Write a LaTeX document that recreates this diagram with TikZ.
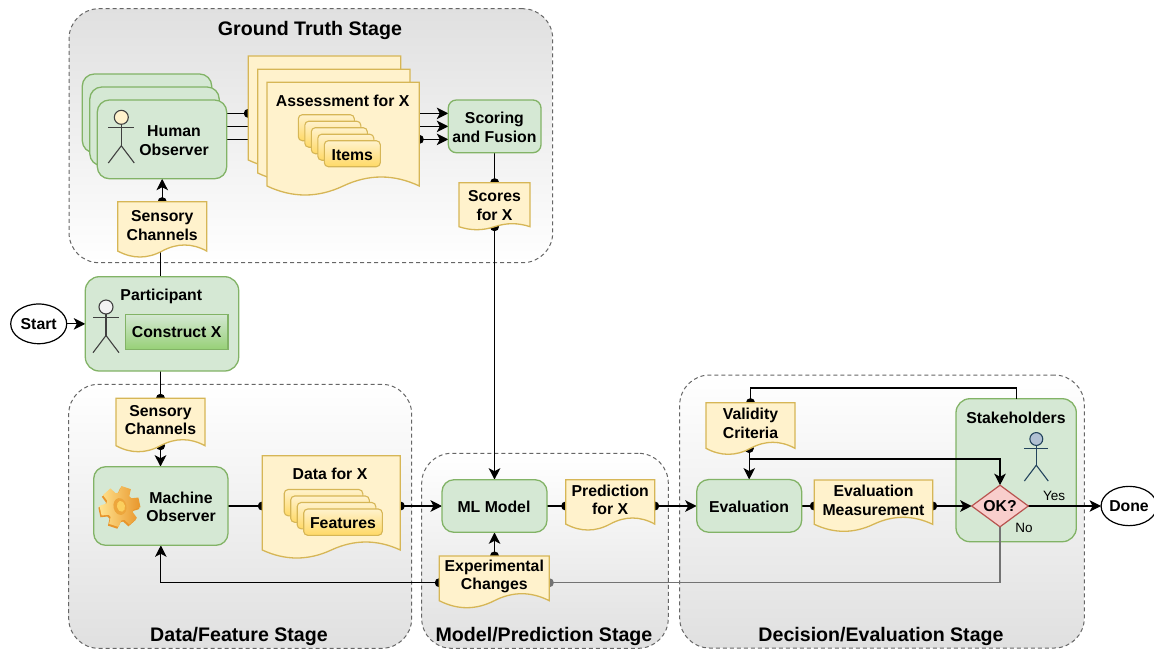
\documentclass[tikz,border=0pt]{standalone}
\usepackage{fontspec}
\setmainfont{Liberation Sans}
\usetikzlibrary{calc}
\usetikzlibrary{arrows.meta}
\usetikzlibrary{shapes.geometric}

\definecolor{greenfill}{HTML}{D5E8D4}
\definecolor{greenline}{HTML}{82B366}
\definecolor{greendark}{HTML}{97D077}
\definecolor{goldfill}{HTML}{FFF2CC}
\definecolor{goldline}{HTML}{D6B656}
\definecolor{golddark}{HTML}{FFD966}
\definecolor{gearedge}{HTML}{E8952A}
\definecolor{gearhole}{HTML}{EDA63C}
\definecolor{stagegray}{HTML}{E0E0E0}
\definecolor{stageline}{HTML}{666666}
\definecolor{redfill}{HTML}{F8CECC}
\definecolor{redline}{HTML}{B85450}
\definecolor{navyline}{HTML}{23445D}
\definecolor{navyfill}{HTML}{B1C1D4}

\pgfdeclarelayer{stage}
\pgfdeclarelayer{edges}
\pgfsetlayers{stage,edges,main}

\tikzset{
  txt/.style={font=\fontsize{15.8}{18.6}\selectfont\bfseries,align=center,inner sep=0pt},
  stagebox/.style={draw=stageline,line width=1pt,dash pattern=on 4pt off 3pt,rounded corners=30pt,inner sep=0pt,outer sep=0pt},
  stagename/.style={font=\fontsize{19.6}{22}\selectfont\bfseries,inner sep=0pt},
  greenbox/.style={txt,draw=greenline,fill=greenfill,line width=1.3pt,rounded corners=12pt,outer sep=0pt},
  itembox/.style={txt,draw=goldline,top color=goldfill,bottom color=golddark,line width=1.1pt,rounded corners=4pt,outer sep=0pt},
  docline/.style={draw=goldline,fill=goldfill,line width=1.3pt},
  terminal/.style={txt,ellipse,draw=black,fill=white,line width=1.2pt,outer sep=0pt},
  edge/.style={line width=1.2pt,draw=black},
  dotline/.style={edge,{Circle[length=9pt,width=9pt]}-,shorten <=-4.5pt},
  linedot/.style={edge,-{Circle[length=9pt,width=9pt]},shorten >=-4.5pt},
  arrowline/.style={edge,-{Stealth[length=11.5pt,width=11.5pt,inset=3pt]}},
  dotarrow/.style={edge,{Circle[length=9pt,width=9pt]}-{Stealth[length=11.5pt,width=11.5pt,inset=3pt]},shorten <=-4.5pt},
}

% wavy document: name, left, top, right, base, wave height, text, text y
\newcommand{\docshape}[8]{%
  \pgfmathsetmacro\dw{(#4-#2)/6}%
  \pgfmathsetmacro\da{#6*4/3}%
  \draw[docline] (#2,#3) -- (#4,#3) -- (#4,#5)
    .. controls +(-\dw,-\da) and +(\dw,-\da) .. ({(#2+#4)/2},#5)
    .. controls +(-\dw,\da) and +(\dw,\da) .. (#2,#5) -- cycle;
  \node[txt,minimum width={(#4-#2)*1pt},minimum height={(#5-#3)*1pt},outer sep=0pt] (#1) at ({(#2+#4)/2},{(#3+#5)/2}) {};
  \node[txt] (#1text) at ({(#2+#4)/2},#8) {#7};
}

% stick figure: head x, head y, scale, line colour, head colour
\newcommand{\stickman}[5]{%
  \begin{scope}[shift={(#1,#2)},scale=#3,draw=#4,line width=1.1pt]
    \draw[fill=#5] (0,0) circle(7);
    \draw (0,7) -- (0,28.5) (-13,10.5) -- (13,10.5);
    \draw (-13,45.7) -- (0,28.5) -- (13,45.7);
  \end{scope}
}

\begin{document}
\begin{tikzpicture}[x=1pt,y=-1pt]
  \useasboundingbox (0,0) rectangle (1154,649);

  % Draw stages
  \begin{pgfonlayer}{stage}
    \node[stagebox,top color=stagegray,bottom color=white,minimum width=483.7pt,minimum height=254pt] (groundstage) at (310.85,135.7) {};
    \node[stagebox,top color=white,bottom color=stagegray,minimum width=343pt,minimum height=264pt] (datastage) at (240.2,516.3) {};
    \node[stagebox,top color=white,bottom color=stagegray,minimum width=246.6pt,minimum height=195pt] (modelstage) at (545,550.8) {};
    \node[stagebox,top color=white,bottom color=stagegray,minimum width=404.6pt,minimum height=273pt] (decisionstage) at (882,511.5) {};
    \node[greenbox,minimum width=120.3pt,minimum height=143pt,rounded corners=14pt] (stakeholders) at (1016.15,470.2) {};
  \end{pgfonlayer}

  \node[stagename] (groundname) at (310,30) {Ground Truth Stage};
  \node[stagename] (dataname) at (239,636) {Data/Feature Stage};
  \node[stagename] (modelname) at (544,636) {Model/Prediction Stage};
  \node[stagename] (decisionname) at (881,636) {Decision/Evaluation Stage};

  % Human observers
  \node[greenbox,minimum width=129.4pt,minimum height=78.7pt] (humanA) at (147,113.35) {};
  \node[greenbox,minimum width=129.4pt,minimum height=78.7pt] (humanB) at (154.5,126.35) {};
  \node[greenbox,minimum width=129.4pt,minimum height=78.7pt] (humanC) at (162,139.35) {};
  \node[txt] (humanname) at (174,140.5) {Human\\Observer};
  \stickman{121.3}{117.3}{1}{black!75}{goldfill}

  % Assessment sheets
  \docshape{assessA}{248.3}{56}{400.7}{160}{9}{}{108}
  \docshape{assessB}{257.7}{69.3}{410}{173}{9}{}{121}
  \docshape{assessC}{267}{82.3}{419.3}{186}{9}{}{134}
  \node[txt] (assessname) at (342.7,100.5) {Assessment for X};
  \foreach \i in {4,...,1} {
    \node[itembox,minimum width=56pt,minimum height=26pt] (item\i) at (352.3-6.5*\i,153.7-6.5*\i) {};
  }
  \node[itembox,minimum width=56pt,minimum height=26pt] (items) at (352.3,153.7) {};
  \node[txt] (itemsname) at (352.3,154.7) {Items};

  \node[greenbox,rounded corners=8pt,minimum width=92.7pt,minimum height=52.7pt] (scoring) at (494.65,126.35) {};
  \node[txt] (scoringname) at (494.4,127.3) {Scoring\\and Fusion};
  \docshape{scores}{459}{182.7}{530}{226.7}{3}{Scores\\for X}{205.6}
  \docshape{sensoryA}{117.7}{201.7}{206.7}{251}{6}{Sensory\\Channels}{225.4}

  % Participant
  \node[terminal,minimum width=56pt,minimum height=39.7pt,inner sep=0pt] (start) at (38.7,323.85) {Start};
  \node[greenbox,rounded corners=14pt,minimum width=153.4pt,minimum height=94.3pt] (participant) at (162,323.85) {};
  \node[txt] (participantname) at (161.3,296.5) {Participant};
  \node[txt,draw=greenline,top color=greenfill,bottom color=greendark,line width=1.1pt,minimum width=102.7pt,minimum height=35pt] (construct) at (176.65,331.8) {Construct X};
  \stickman{106}{307}{1}{black!75}{black!5}

  % Machine side
  \docshape{sensoryB}{116}{398.3}{205}{445.7}{6}{Sensory\\Channels}{420}
  \node[greenbox,minimum width=134.3pt,minimum height=78.6pt] (machine) at (160.85,506) {};
  \node[txt] (machinename) at (181,507) {Machine\\Observer};
  % gear icon
  \begin{scope}[shift={(120,506.5)},rotate=12]
    \fill[gearedge] (-24:14) \foreach \t in {0,60,...,300} {
      -- ($(-1.5,1.5)+(\t-24:14)$) -- ($(-1.5,1.5)+(\t-14:20.5)$) -- ($(-1.5,1.5)+(\t+14:20.5)$) -- ($(-1.5,1.5)+(\t+24:14)$)
    } -- cycle;
    \shade[left color=goldfill!40!golddark,right color=gearedge] (-24:14) \foreach \t in {0,60,...,300} {
      -- (\t-24:14) -- (\t-14:20.5) -- (\t+14:20.5) -- (\t+24:14)
    } -- cycle;
    \fill[gearhole] (0,0) ellipse (6.5 and 8.5);
    \fill[golddark!80!gearhole] (1,0) ellipse (4 and 5.5);
  \end{scope}

  \docshape{dataX}{262.3}{455.7}{400.3}{550}{8}{}{503}
  \node[txt] (dataname2) at (330,474) {Data for X};
  \foreach \i in {3,2,1} {
    \node[itembox,minimum width=78.6pt,minimum height=26.3pt] (feature\i) at (343-6.5*\i,522.15-6.5*\i) {};
  }
  \node[itembox,minimum width=78.6pt,minimum height=26.3pt] (features) at (343,522.15) {};
  \node[txt] (featuresname) at (343,522.9) {Features};

  % Model stage
  \node[greenbox,minimum width=105pt,minimum height=52.6pt] (model) at (494.5,506) {};
  \node[txt] (modelname2) at (494,506.8) {ML Model};
  \docshape{prediction}{565.7}{479.7}{654.7}{524}{6}{Prediction\\for X}{499.9}
  \docshape{changes}{439.3}{556}{549.3}{600.7}{7}{Experimental\\Changes}{576.4}

  % Decision stage
  \node[greenbox,minimum width=105pt,minimum height=52.7pt] (evaluation) at (749.2,505.9) {};
  \node[txt] (evaluationname) at (749,506.8) {Evaluation};
  \docshape{validity}{706}{402.7}{795}{448.3}{6}{Validity\\Criteria}{423.5}
  \docshape{measurement}{814.3}{480}{932.7}{524.3}{7}{Evaluation\\Measurement}{500.2}
  \node[txt] (stakename) at (1016,417.5) {Stakeholders};
  \stickman{1036.3}{439}{0.92}{navyline}{navyfill}
  \node[txt,diamond,shape aspect=1.36,draw=redline,fill=redfill,line width=1.2pt,minimum width=56.6pt,minimum height=41.6pt,outer sep=0pt] (ok) at (1000,506) {OK?};
  \node[terminal,minimum width=52.6pt,minimum height=39.3pt,inner sep=0pt] (done) at (1129,506) {Done};
  \node[font=\fontsize{13.5}{15}\selectfont,inner sep=0pt] (yes) at (1054,496) {Yes};
  \node[font=\fontsize{13.5}{15}\selectfont,inner sep=0pt] (no) at (1024,528) {No};

  % Turning points
  \coordinate (changeline) at (0,582.7);
  \coordinate (feedback) at (750.5,388);
  \coordinate (okturn) at (1000,459);

  % Draw connectors
  \begin{pgfonlayer}{edges}
    \draw[arrowline] (start) -- (participant);
    \draw[edge] (participant.north -| sensoryB.north) -- (sensoryA.south -| sensoryB.north);
    \draw[dotarrow] (sensoryA.north) -- (sensoryA.north |- humanC.south);
    \draw[linedot] (participant.south -| sensoryB.north) -- (sensoryB.north);
    \draw[dotarrow] (sensoryB.south) -- (sensoryB.south |- machine.north);

    \foreach \who/\sheet in {humanA/assessA,humanB/assessB,humanC/assessC} {
      \draw[linedot] (\who.east) -- (\who.east -| \sheet.west);
      \draw[dotarrow] (\who.east -| \sheet.east) -- (\who.east -| scoring.west);
    }
    \draw[linedot] (scoring.south) -- (scoring.south |- scores.north);
    \draw[dotarrow] (scores.south) -- (scores.south |- model.north);

    \draw[linedot] (machine.east) -- (machine.east -| dataX.west);
    \draw[dotarrow] (machine.east -| dataX.east) -- (model.west);
    \draw[linedot] (model.east) -- (model.east -| prediction.west);
    \draw[dotarrow] (model.east -| prediction.east) -- (evaluation.west |- model.east);
    \draw[linedot] (evaluation.east |- model.east) -- (model.east -| measurement.west);
    \draw[dotarrow] (model.east -| measurement.east) -- (ok.west);
    \draw[arrowline] (ok.east) -- (done.west);

    \draw[dotarrow] (changes.north -| model.south) -- (model.south);
    \draw[dotarrow] (changes.west |- changeline) -| (machine.south);
    \draw[edge,draw=black!55,-{Circle[length=9pt,width=9pt]},shorten >=-4.5pt] (ok.south) |- (changes.east |- changeline);

    \draw[linedot] (stakeholders.north) |- (feedback) -- (validity.north);
    \draw[dotarrow] (evaluation.north |- validity.south) -- (evaluation.north);
    \draw[dotarrow] (evaluation.north |- validity.south) |- (okturn) -- (ok.north);
  \end{pgfonlayer}
\end{tikzpicture}
\end{document}
